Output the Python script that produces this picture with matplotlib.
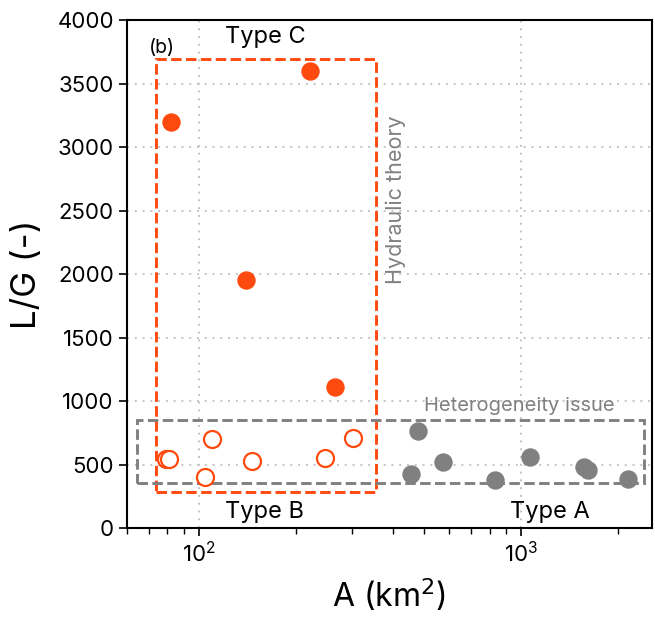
import numpy as np
import matplotlib
matplotlib.use("Agg")
import matplotlib.pyplot as plt
from matplotlib.patches import Rectangle

plt.rcParams['font.family'] = ['Inter', 'DejaVu Sans']

# Type C (filled orange)
typeC_A = [82, 221, 140, 266]
typeC_LG = [3200, 3600, 1950, 1110]
# Type B (open orange)
typeB_A = [79, 81, 110, 105, 147, 247, 301]
typeB_LG = [543, 543, 698, 404, 525, 554, 711]
# Type A (gray)
typeA_A = [479, 456, 574, 830, 1071, 1571, 1620, 2153]
typeA_LG = [764, 425, 520, 378, 561, 480, 460, 383]

orange = '#FF4A0F'
gray = '#808080'

fig = plt.figure(figsize=(6.55, 6.18), dpi=100)
ax = fig.add_axes([0.194, 0.1456, 0.801, 0.822])

ax.set_xscale('log')
ax.set_xlim(60, 2550)
ax.set_ylim(0, 4000)
ax.grid(True, which='major', linestyle=(0, (1, 3)), color='#c4c4c4', linewidth=1.4)
ax.set_axisbelow(True)

ax.scatter(typeC_A, typeC_LG, s=150, color=orange, zorder=3)
ax.scatter(typeB_A, typeB_LG, s=150, facecolors='white', edgecolors=orange,
           linewidths=1.6, zorder=3)
ax.scatter(typeA_A, typeA_LG, s=150, color=gray, zorder=3)

ax.add_patch(Rectangle((74, 283), 355 - 74, 3693 - 283, fill=False,
                       edgecolor=orange, linestyle=(0, (3.6, 1.5)), linewidth=2.1, zorder=2))
ax.add_patch(Rectangle((64.2, 354), 2410 - 64.2, 850 - 354, fill=False,
                       edgecolor=gray, linestyle=(0, (3.6, 1.5)), linewidth=2.1, zorder=2))

ax.text(161, 3866, 'Type C', fontsize=17, ha='center', va='center')
ax.text(76.8, 3780, '(b)', fontsize=14, ha='center', va='center')
ax.text(410, 2583, 'Hydraulic theory', fontsize=15.5, color=gray, rotation=90,
        ha='center', va='center')
ax.text(993, 961, 'Heterogeneity issue', fontsize=14.5, color=gray,
        ha='center', va='center')
ax.text(160, 126, 'Type B', fontsize=17, ha='center', va='center')
ax.text(1234, 126, 'Type A', fontsize=17, ha='center', va='center')

ax.set_xlabel('A (km$^2$)', fontsize=23, labelpad=8)
ax.set_ylabel('L/G (-)', fontsize=25, labelpad=10)
ax.tick_params(axis='both', which='major', labelsize=16, width=1.2, length=6)
ax.tick_params(axis='x', which='minor', width=1, length=4)
for sp in ax.spines.values():
    sp.set_linewidth(1.5)

fig.savefig('out.png', dpi=100)
